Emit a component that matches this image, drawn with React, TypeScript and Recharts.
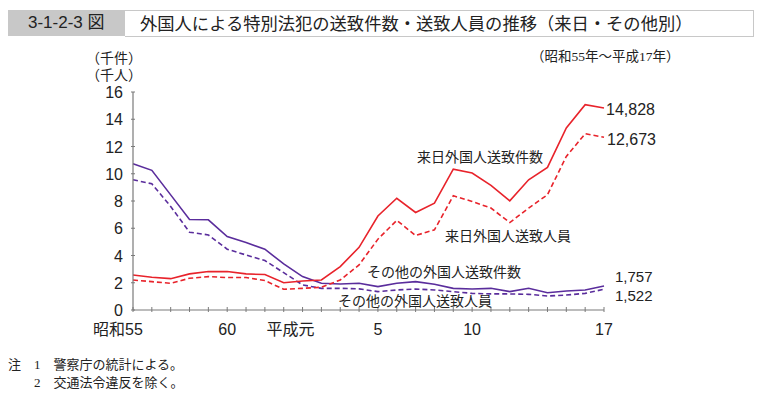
import { LineChart, Line, XAxis, YAxis } from "recharts";

// 昭和55年(1980)〜平成17年(2005), 単位: 千件 / 千人
const years = [
  1980, 1981, 1982, 1983, 1984, 1985, 1986, 1987, 1988, 1989, 1990, 1991, 1992,
  1993, 1994, 1995, 1996, 1997, 1998, 1999, 2000, 2001, 2002, 2003, 2004, 2005,
];
const raiCases = [
  2.57, 2.4, 2.3, 2.65, 2.82, 2.82, 2.65, 2.6, 2.0, 2.13, 2.2, 3.19, 4.6, 6.9,
  8.2, 7.16, 7.84, 10.34, 10.05, 9.15, 8.01, 9.56, 10.47, 13.36, 15.07, 14.828,
];
const raiPersons = [
  2.2, 2.08, 1.96, 2.33, 2.45, 2.38, 2.38, 2.16, 1.52, 1.59, 1.67, 2.2, 3.31,
  5.2, 6.58, 5.47, 5.88, 8.38, 7.97, 7.48, 6.42, 7.48, 8.46, 11.27, 12.94, 12.673,
];
const otherCases = [
  10.74, 10.25, 8.45, 6.64, 6.62, 5.39, 4.95, 4.46, 3.38, 2.45, 1.96, 1.91, 1.96,
  1.72, 1.96, 2.08, 1.89, 1.59, 1.54, 1.59, 1.35, 1.59, 1.27, 1.4, 1.47, 1.757,
];
const otherPersons = [
  9.56, 9.26, 7.6, 5.71, 5.51, 4.46, 4.04, 3.63, 2.74, 1.84, 1.59, 1.59, 1.55,
  1.35, 1.47, 1.54, 1.47, 1.35, 1.22, 1.18, 1.18, 1.15, 1.03, 1.1, 1.22, 1.522,
];
const xTickLabels: Record<number, string> = {
  1980: "昭和55",
  1985: "60",
  1989: "平成元",
  1993: "5",
  1998: "10",
  2005: "17",
};
const yTicks = [0, 2, 4, 6, 8, 10, 12, 14, 16];
const endLabels = ["14,828", "12,673", "1,757", "1,522"];

const RED = "#e8232b";
const PURPLE = "#5a2d9c";
const AXIS = "#7a7a7a";
const SANS = "'Liberation Sans', 'Noto Sans CJK JP', sans-serif";
const SERIF = "'Liberation Serif', 'Noto Sans CJK JP', serif";

const data = years.map((y, i) => ({
  year: y,
  raiCases: raiCases[i],
  raiPersons: raiPersons[i],
  otherCases: otherCases[i],
  otherPersons: otherPersons[i],
}));

function XTick(props: any) {
  const { x, y, payload } = props;
  const label = xTickLabels[payload.value];
  const dx = payload.value === 1980 ? -15 : payload.value === 1989 ? -12 : 0;
  return (
    <g>
      <line x1={x} x2={x} y1={y} y2={y - 5} stroke={AXIS} strokeWidth={1} />
      {label && (
        <text x={x + dx} y={y + 23} textAnchor="middle" fontSize={16} fill="#222" fontFamily={SANS}>
          {label}
        </text>
      )}
    </g>
  );
}

function YTick(props: any) {
  const { x, y, payload } = props;
  return (
    <g>
      <line x1={x} x2={x + 4} y1={y} y2={y} stroke={AXIS} strokeWidth={1} />
      <text x={x - 8} y={y + 6} textAnchor="end" fontSize={16} fill="#222" fontFamily={SANS}>
        {payload.value}
      </text>
    </g>
  );
}

function endLabel(text: string, dx: number, dy: number, size = 16) {
  return (props: any) => {
    const { x, y, index } = props;
    if (index !== years.length - 1) return null;
    return (
      <text key="end" x={x + dx} y={y + dy + size * 0.36} fontSize={size} fill="#222" fontFamily={SANS}>
        {text}
      </text>
    );
  };
}

const note: React.CSSProperties = {
  position: "absolute",
  fontSize: 14,
  color: "#222",
  fontFamily: SANS,
  whiteSpace: "nowrap",
  lineHeight: "16px",
};

export default function App() {
  return (
    <div style={{ position: "absolute", left: 0, top: 0, width: 764, height: 401, background: "#fff", overflow: "hidden" }}>
      {/* title bar */}
      <div style={{ position: "absolute", left: 8, top: 10, width: 117, height: 26, background: "#c8c8c8" }} />
      <div style={{ position: "absolute", left: 125, top: 10, width: 628, height: 25, border: "1px solid #c8c8c8", borderLeft: "none" }} />
      <div style={{ ...note, left: 28, top: 13, fontSize: 17, lineHeight: "20px" }}>3-1-2-3 図</div>
      <div style={{ ...note, left: 140, top: 12, fontSize: 17.3, lineHeight: "22px", fontFamily: "'Noto Sans CJK JP', sans-serif" }}>
        外国人による特別法犯の送致件数・送致人員の推移（来日・その他別）
      </div>
      <div style={{ ...note, left: 531, top: 49, fontSize: 13.5, fontFamily: SERIF }}>（昭和55年～平成17年）</div>
      <div style={{ ...note, left: 86, top: 50, fontSize: 14 }}>（千件）</div>
      <div style={{ ...note, left: 86, top: 67, fontSize: 14 }}>（千人）</div>

      <div style={{ position: "absolute", left: 0, top: 0 }}>
        <LineChart width={764} height={401} data={data} margin={{ top: 92, right: 160, bottom: 90, left: 132 }}>
          <XAxis
            dataKey="year"
            height={1}
            interval={0}
            tick={<XTick />}
            tickLine={false}
            tickSize={0}
            axisLine={{ stroke: AXIS, strokeWidth: 1.2 }}
          />
          <YAxis
            width={1}
            domain={[0, 16]}
            ticks={yTicks}
            interval={0}
            tick={<YTick />}
            tickLine={false}
            tickSize={0}
            axisLine={{ stroke: AXIS, strokeWidth: 1.2 }}
          />
          <Line dataKey="otherCases" stroke={PURPLE} strokeWidth={1.6} dot={false} isAnimationActive={false} label={endLabel(endLabels[2], 11, -9, 15)} />
          <Line dataKey="otherPersons" stroke={PURPLE} strokeWidth={1.6} strokeDasharray="5 3" dot={false} isAnimationActive={false} label={endLabel(endLabels[3], 11, 6, 15)} />
          <Line dataKey="raiCases" stroke={RED} strokeWidth={1.6} dot={false} isAnimationActive={false} label={endLabel(endLabels[0], 2, 1)} />
          <Line dataKey="raiPersons" stroke={RED} strokeWidth={1.6} strokeDasharray="5 3" dot={false} isAnimationActive={false} label={endLabel(endLabels[1], 3, 2)} />
        </LineChart>
      </div>

      {/* series annotations */}
      <div style={{ ...note, left: 417, top: 149 }}>来日外国人送致件数</div>
      <div style={{ ...note, left: 445, top: 228 }}>来日外国人送致人員</div>
      <div style={{ ...note, left: 367, top: 264 }}>その他の外国人送致件数</div>
      <div style={{ ...note, left: 338, top: 293 }}>その他の外国人送致人員</div>

      {/* notes */}
      <div style={{ ...note, left: 8, top: 357, fontSize: 13, fontFamily: SERIF }}>注　1　警察庁の統計による。</div>
      <div style={{ ...note, left: 8, top: 375, fontSize: 13, fontFamily: SERIF }}>　　2　交通法令違反を除く。</div>
    </div>
  );
}
